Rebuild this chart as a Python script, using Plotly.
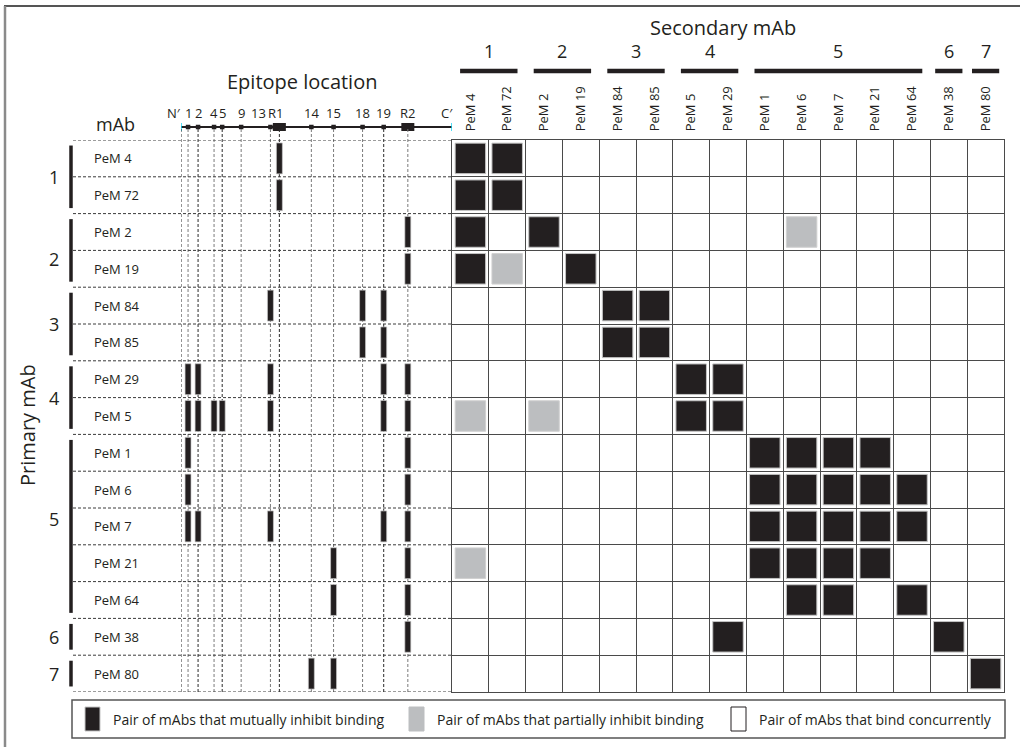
import plotly.graph_objects as go

W, H = 1020, 747
FONT = "Open Sans"
INK = "#231f20"
GREY = "#bcbec0"
RULE = "#4a4a4a"

# Primary (rows) and secondary (columns) antibodies with their competition groups
primary_mabs = ["PeM 4", "PeM 72", "PeM 2", "PeM 19", "PeM 84", "PeM 85", "PeM 29", "PeM 5",
                "PeM 1", "PeM 6", "PeM 7", "PeM 21", "PeM 64", "PeM 38", "PeM 80"]
primary_groups = [1, 1, 2, 2, 3, 3, 4, 4, 5, 5, 5, 5, 5, 6, 7]
secondary_mabs = ["PeM 4", "PeM 72", "PeM 2", "PeM 19", "PeM 84", "PeM 85", "PeM 5", "PeM 29",
                  "PeM 1", "PeM 6", "PeM 7", "PeM 21", "PeM 64", "PeM 38", "PeM 80"]
secondary_groups = [1, 1, 2, 2, 3, 3, 4, 4, 5, 5, 5, 5, 5, 6, 7]

# 2 = mutually inhibit binding, 1 = partially inhibit, 0 = bind concurrently
competition = [
    [2, 2, 0, 0, 0, 0, 0, 0, 0, 0, 0, 0, 0, 0, 0],  # PeM 4
    [2, 2, 0, 0, 0, 0, 0, 0, 0, 0, 0, 0, 0, 0, 0],  # PeM 72
    [2, 0, 2, 0, 0, 0, 0, 0, 0, 1, 0, 0, 0, 0, 0],  # PeM 2
    [2, 1, 0, 2, 0, 0, 0, 0, 0, 0, 0, 0, 0, 0, 0],  # PeM 19
    [0, 0, 0, 0, 2, 2, 0, 0, 0, 0, 0, 0, 0, 0, 0],  # PeM 84
    [0, 0, 0, 0, 2, 2, 0, 0, 0, 0, 0, 0, 0, 0, 0],  # PeM 85
    [0, 0, 0, 0, 0, 0, 2, 2, 0, 0, 0, 0, 0, 0, 0],  # PeM 29
    [1, 0, 1, 0, 0, 0, 2, 2, 0, 0, 0, 0, 0, 0, 0],  # PeM 5
    [0, 0, 0, 0, 0, 0, 0, 0, 2, 2, 2, 2, 0, 0, 0],  # PeM 1
    [0, 0, 0, 0, 0, 0, 0, 0, 2, 2, 2, 2, 2, 0, 0],  # PeM 6
    [0, 0, 0, 0, 0, 0, 0, 0, 2, 2, 2, 2, 2, 0, 0],  # PeM 7
    [1, 0, 0, 0, 0, 0, 0, 0, 2, 2, 2, 2, 0, 0, 0],  # PeM 21
    [0, 0, 0, 0, 0, 0, 0, 0, 0, 2, 2, 0, 2, 0, 0],  # PeM 64
    [0, 0, 0, 0, 0, 0, 0, 2, 0, 0, 0, 0, 0, 2, 0],  # PeM 38
    [0, 0, 0, 0, 0, 0, 0, 0, 0, 0, 0, 0, 0, 0, 2],  # PeM 80
]

# Epitope positions along the antigen, in % of its length from N' to C'
epitope_names = ["1", "2", "4", "5", "9", "13", "R1", "14", "15", "18", "19", "R2"]
epitope_pos = [2.6, 6.3, 12.2, 15.2, 22.2, 33.0, 36.3, 48.1, 56.3, 67.0, 74.8, 83.7]
repeat_regions = ["R1", "R2"]

# Epitopes recognised by each primary antibody
row_epitopes = {
    "PeM 4": ["R1"], "PeM 72": ["R1"], "PeM 2": ["R2"], "PeM 19": ["R2"],
    "PeM 84": ["13", "18", "19"], "PeM 85": ["18", "19"],
    "PeM 29": ["1", "2", "13", "19", "R2"],
    "PeM 5": ["1", "2", "4", "5", "13", "19", "R2"],
    "PeM 1": ["1", "R2"], "PeM 6": ["1", "R2"],
    "PeM 7": ["1", "2", "13", "19", "R2"],
    "PeM 21": ["15", "R2"], "PeM 64": ["15", "R2"], "PeM 38": ["R2"],
    "PeM 80": ["14", "15"],
}

legend_labels = ["Pair of mAbs that mutually inhibit binding",
                 "Pair of mAbs that partially inhibit binding",
                 "Pair of mAbs that bind concurrently"]


def px(x):
    return x / W


def py(y):
    return 1 - y / H


def text(x, y, s, size, xref="paper", yref="paper", xanchor="center", **kw):
    return dict(x=x, y=y, xref=xref, yref=yref, text=s, showarrow=False,
                xanchor=xanchor, yanchor="middle", font=dict(size=size, color=INK), **kw)


GRID_L, GRID_R, GRID_T, GRID_B = 452, 1004, 140, 692
MAP_L, MAP_R = 181, 452
pos_of = dict(zip(epitope_names, epitope_pos))

fig = go.Figure()

# Competition matrix cells
cells = {2: ([], []), 1: ([], [])}
for i, row in enumerate(primary_mabs):
    for j, col in enumerate(secondary_mabs):
        v = competition[i][j]
        if v in cells:
            cells[v][0].append(col)
            cells[v][1].append(row)

fig.add_trace(go.Scatter(
    x=cells[2][0], y=cells[2][1], mode="markers", xaxis="x", yaxis="y",
    marker=dict(symbol="square", size=30.5, color=INK, line=dict(color="#c4c4c4", width=1)),
    hoverinfo="skip"))
fig.add_trace(go.Scatter(
    x=cells[1][0], y=cells[1][1], mode="markers", xaxis="x", yaxis="y",
    marker=dict(symbol="square", size=30.5, color=GREY, line=dict(color="#d0d0d0", width=1)),
    hoverinfo="skip"))

# Antigen map: backbone, epitope ticks, repeat regions, end ticks
fig.add_trace(go.Scatter(x=[0, 100], y=[0, 0], mode="lines", xaxis="x2", yaxis="y3",
                         line=dict(color=INK, width=2), hoverinfo="skip"))
small = [p for n, p in zip(epitope_names, epitope_pos) if n not in repeat_regions]
big = [pos_of[n] for n in repeat_regions]
fig.add_trace(go.Scatter(x=small, y=[0] * len(small), mode="markers", xaxis="x2", yaxis="y3",
                         marker=dict(symbol="square", size=4.5, color=INK), hoverinfo="skip"))
fig.add_trace(go.Scatter(x=big, y=[0] * len(big), mode="markers", xaxis="x2", yaxis="y3",
                         marker=dict(symbol="square", size=13, color=INK), hoverinfo="skip"))
fig.add_trace(go.Scatter(x=[0, 100], y=[0, 0], mode="markers", xaxis="x2", yaxis="y3",
                         marker=dict(symbol="line-ns-open", size=8, line=dict(color=INK, width=1.5)),
                         hoverinfo="skip"))

shapes = []
annotations = []

# Outer frame (top and left edges)
shapes.append(dict(type="line", xref="paper", yref="paper", x0=px(4), x1=1, y0=py(6), y1=py(6),
                   line=dict(color="#555555", width=2)))
shapes.append(dict(type="line", xref="paper", yref="paper", x0=px(5), x1=px(5), y0=py(6), y1=0,
                   line=dict(color="#8a8a8a", width=2.5)))

# Dashed guides through each epitope position
guide_dark = {"1": False, "2": True, "4": False, "5": True, "9": False, "13": False, "R1": True,
              "14": False, "15": False, "18": False, "19": True, "R2": False}
for name, p in [("N", 0)] + list(zip(epitope_names, epitope_pos)):
    dark = guide_dark.get(name, True)
    shapes.append(dict(type="line", xref="x2", yref="paper", x0=p, x1=p, y0=py(GRID_B), y1=py(129),
                       line=dict(color="#2a2a2a" if dark else "#7a7a7a", width=1, dash="3px,2px")))

# Dashed row separators across the label/epitope area
for k in range(len(primary_mabs) + 1):
    shapes.append(dict(type="line", xref="paper", yref="y", x0=px(73), x1=px(GRID_L),
                       y0=k - 0.5, y1=k - 0.5,
                       line=dict(color="#3a3a3a", width=1, dash="3px,2px")))

# Epitope bars for each primary antibody
for i, mab in enumerate(primary_mabs):
    for e in row_epitopes[mab]:
        p = pos_of[e]
        shapes.append(dict(type="rect", xref="x2", yref="y", x0=p - 1.1, x1=p + 1.1,
                           y0=i - 0.42, y1=i + 0.42, fillcolor=INK,
                           line=dict(color="#c8c8c8", width=0.7)))

# Row group brackets and numbers
group_nudge = {2: 9, 5: -7}
for g in sorted(set(primary_groups)):
    idx = [i for i, v in enumerate(primary_groups) if v == g]
    shapes.append(dict(type="line", xref="paper", yref="y", x0=px(71), x1=px(71),
                       y0=idx[0] - 0.5 + 0.15, y1=idx[-1] + 0.5 - 0.15,
                       line=dict(color=INK, width=3.5)))
    annotations.append(text(px(54), (idx[0] + idx[-1]) / 2, str(g), 18, yref="y",
                            yshift=-group_nudge.get(g, 0)))

# Column group overlines and numbers
for g in sorted(set(secondary_groups)):
    idx = [j for j, v in enumerate(secondary_groups) if v == g]
    m = 0.22 if len(idx) > 1 else 0.13
    shapes.append(dict(type="line", xref="x", yref="paper", x0=idx[0] - 0.5 + m, x1=idx[-1] + 0.5 - m,
                       y0=py(71), y1=py(71), line=dict(color=INK, width=4.5)))
    annotations.append(text((idx[0] + idx[-1]) / 2, py(51), str(g), 18, xref="x"))

# Row labels
for mab in primary_mabs:
    annotations.append(text(px(92), mab, mab, 13, yref="y", xanchor="left"))

# Epitope labels above the antigen map
label_shift = {"13": -12, "R1": -4}
for n, p in zip(epitope_names, epitope_pos):
    annotations.append(text(p, py(113), n, 13, xref="x2", xshift=label_shift.get(n, 0)))
annotations.append(text(0, py(113), "N\u2032", 13, xref="x2", xshift=-7))
annotations.append(text(100, py(113), "C\u2032", 13, xref="x2", xshift=-5))

# Titles
annotations += [
    text(px(302), py(81), "Epitope location", 20),
    text(px(723), py(27), "Secondary mAb", 20),
    text(px(115), py(124), "mAb", 18),
    text(px(27), py(425), "Primary mAb", 20, textangle=-90),
]

# Legend box
shapes.append(dict(type="rect", xref="paper", yref="paper", x0=px(72), x1=px(1005), y0=py(738), y1=py(700),
                   line=dict(color="#555555", width=1.5), fillcolor="rgba(0,0,0,0)"))
swatches = [(85, INK, "#c4c4c4"), (409, GREY, GREY), (731, "white", INK)]
for (sx, fill, edge), label in zip(swatches, legend_labels):
    shapes.append(dict(type="rect", xref="paper", yref="paper", x0=px(sx), x1=px(sx + 15),
                       y0=py(731), y1=py(707), fillcolor=fill, line=dict(color=edge, width=1)))
    annotations.append(text(px(sx + 26), py(719), label, 14, xanchor="left"))

fig.update_layout(
    width=W, height=H, margin=dict(l=0, r=0, t=0, b=0),
    paper_bgcolor="white", plot_bgcolor="rgba(0,0,0,0)",
    showlegend=False, font=dict(family=FONT, color=INK),
    shapes=shapes, annotations=annotations,
    xaxis=dict(domain=[px(GRID_L), px(GRID_R)], type="category", categoryorder="array",
               categoryarray=secondary_mabs, range=[-0.5, len(secondary_mabs) - 0.5],
               side="top", tickangle=-90, tickson="boundaries", ticks="", ticklabelstandoff=5,
               showgrid=True, gridcolor=RULE, gridwidth=1.2, showline=True, mirror=True,
               linecolor=RULE, linewidth=1.2, tickfont=dict(size=13, color=INK),
               zeroline=False, fixedrange=True, anchor="y"),
    yaxis=dict(domain=[py(GRID_B), py(GRID_T)], type="category", categoryorder="array",
               categoryarray=primary_mabs, range=[len(primary_mabs) - 0.5, -0.5],
               tickson="boundaries", ticks="", showticklabels=False,
               showgrid=True, gridcolor=RULE, gridwidth=1.2, showline=True, mirror=True,
               linecolor=RULE, linewidth=1.2, zeroline=False, fixedrange=True, anchor="x"),
    xaxis2=dict(domain=[px(MAP_L), px(MAP_R)], range=[0, 100], visible=False, anchor="y",
                fixedrange=True),
    yaxis3=dict(domain=[py(131), py(123)], range=[-1, 1], visible=False, anchor="x2",
                fixedrange=True),
)

fig.write_html("out.html", config={"displayModeBar": False})
